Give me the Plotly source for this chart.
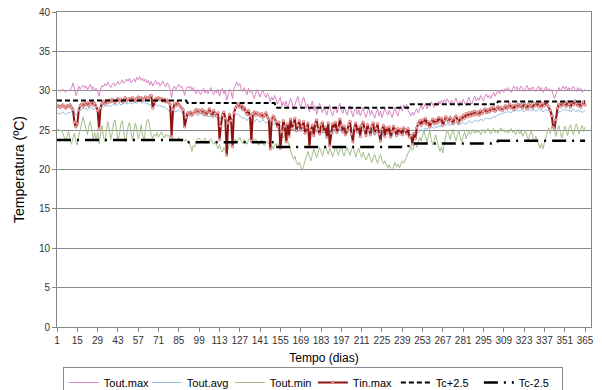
import numpy as np
import plotly.graph_objects as go

days = list(range(1, 366))

tout_max = [
    30.0, 30.1, 29.9, 30.0, 30.2, 30.0, 29.8, 30.1, 30.0, 30.2,
    30.3, 31.0, 30.4, 29.4, 29.8, 30.6, 30.2, 30.5, 30.7, 30.3,
    30.6, 30.1, 30.4, 30.8, 30.2, 30.5, 30.0, 30.3, 29.9, 29.3,
    30.2, 30.7, 30.5, 30.9, 30.6, 31.1, 30.7, 30.4, 30.8, 31.0,
    30.6, 30.9, 31.2, 30.8, 31.0, 31.4, 30.9, 31.1, 31.5, 31.2,
    31.6, 31.0, 31.3, 31.5, 31.1, 31.7, 31.4, 31.8, 31.3, 31.6,
    31.2, 31.5, 31.0, 31.3, 30.7, 31.2, 30.6, 31.0, 31.3, 30.8,
    31.1, 30.6, 30.9, 31.2, 30.8, 30.5, 31.0, 30.7, 30.2, 29.1,
    30.3, 30.6, 30.2, 30.5, 30.8, 30.4, 30.6, 30.1, 29.4, 30.2,
    30.5, 30.3, 30.6, 30.1, 30.4, 30.0, 29.6, 30.2, 29.8, 29.5,
    29.9, 30.3, 29.7, 30.1, 29.6, 30.0, 30.4, 29.8, 29.5, 30.1,
    29.7, 30.2, 29.3, 29.9, 30.3, 29.6, 30.0, 28.8, 29.5, 30.2,
    29.8, 29.0, 30.3, 30.7, 31.1, 30.6, 30.9, 30.2, 29.9, 30.4,
    30.0, 29.5, 30.3, 29.8, 30.1, 29.4, 29.0, 29.7, 30.2, 29.6,
    29.2, 29.8, 30.0, 29.5, 29.1, 29.7, 29.3, 28.6, 29.2, 28.8,
    29.4, 28.9, 28.3, 28.8, 29.2, 28.0, 28.6, 28.1, 28.7, 27.8,
    28.4, 29.0, 28.5, 27.6, 28.2, 28.9, 29.3, 28.4, 27.9, 28.6,
    29.2, 28.5, 27.8, 28.3, 27.3, 28.0, 28.7, 27.5, 28.1, 27.0,
    27.7, 28.4, 27.9, 27.2, 28.0, 27.4, 26.9, 27.7, 28.2, 27.3,
    26.8, 27.5, 28.0, 27.2, 27.8, 28.4, 27.6, 27.1, 27.9, 27.4,
    26.9, 27.6, 28.1, 27.3, 26.7, 27.5, 27.9, 27.0, 27.6, 26.8,
    27.4, 27.9, 27.1, 26.6, 27.3, 27.8, 26.9, 27.5, 27.0, 26.5,
    27.2, 27.7, 26.8, 27.4, 26.6, 27.1, 27.8, 27.3, 26.9, 27.5,
    27.0, 26.6, 27.3, 27.9, 27.2, 26.8, 27.6, 28.1, 27.4, 28.2,
    27.8, 28.3, 27.5, 27.1, 26.8, 27.3, 26.9, 27.4, 27.7, 27.2,
    27.8, 28.2, 27.6, 28.0, 28.4, 27.7, 28.3, 28.0, 28.6, 28.2,
    27.9, 28.5, 28.1, 28.7, 28.3, 28.8, 28.4, 28.9, 28.5, 29.0,
    28.7, 28.3, 28.8, 28.2, 28.6, 29.1, 28.5, 28.0, 28.7, 28.4,
    28.9, 28.5, 28.1, 28.8, 29.2, 28.6, 28.3, 28.9, 29.3, 28.7,
    29.1, 28.8, 29.4, 29.0, 28.7, 29.3, 29.6, 29.1, 29.4, 29.0,
    29.5, 29.8, 29.3, 29.7, 30.1, 29.6, 29.9, 30.2, 29.8, 30.3,
    30.0, 30.4, 30.1, 29.8, 30.3, 30.6, 30.2, 30.5, 30.0, 30.3,
    30.6, 30.2, 29.9, 30.4, 30.7, 30.1, 30.4, 30.0, 30.5, 30.2,
    29.9, 30.3, 30.6, 30.1, 30.4, 29.8, 30.2, 30.5, 30.0, 30.3,
    29.9, 30.2, 29.5, 29.0, 29.6, 30.1, 30.4, 30.0, 30.3, 30.6,
    30.2, 30.5, 30.1, 30.4, 30.0, 30.3, 30.6, 30.2, 29.9, 30.4,
    30.1, 30.3, 29.8, 30.0, 30.2,
]

tout_avg = [
    27.1, 27.2, 27.0, 27.1, 27.3, 27.2, 27.0, 27.1, 27.3, 27.2,
    27.4, 27.6, 27.3, 26.9, 27.0, 27.4, 27.5, 27.6, 27.8, 27.7,
    27.8, 27.6, 27.7, 27.9, 27.8, 27.7, 27.6, 27.8, 27.5, 27.1,
    27.6, 27.9, 28.0, 28.1, 28.0, 28.2, 28.1, 28.0, 28.2, 28.3,
    28.2, 28.1, 28.3, 28.4, 28.2, 28.3, 28.4, 28.5, 28.3, 28.4,
    28.5, 28.4, 28.3, 28.5, 28.6, 28.4, 28.6, 28.7, 28.5, 28.4,
    28.6, 28.5, 28.3, 28.4, 28.1, 28.3, 28.2, 28.4, 28.3, 28.1,
    28.2, 28.0, 28.1, 27.9, 28.0, 27.8, 27.7, 27.5, 27.3, 26.9,
    27.2, 27.4, 27.3, 27.5, 27.6, 27.4, 27.3, 27.2, 27.0, 27.1,
    27.3, 27.2, 27.0, 26.9, 27.1, 27.2, 27.0, 26.8, 27.0, 27.1,
    27.0, 26.8, 26.9, 27.1, 26.8, 26.7, 26.9, 26.8, 26.6, 26.8,
    26.7, 26.9, 26.5, 26.6, 26.8, 26.7, 26.6, 26.0, 26.4, 26.7,
    26.6, 26.2, 26.7, 26.9, 27.1, 27.0, 26.8, 26.7, 26.5, 26.6,
    26.4, 26.2, 26.5, 26.6, 26.3, 26.1, 26.0, 26.3, 26.4, 26.2,
    26.0, 26.2, 26.3, 26.1, 25.9, 26.0, 26.1, 25.8, 25.9, 25.7,
    25.8, 25.6, 25.5, 25.7, 25.6, 25.3, 25.5, 25.4, 25.6, 25.2,
    25.4, 25.5, 25.3, 25.0, 25.2, 25.4, 25.5, 25.2, 24.9, 25.1,
    25.3, 25.0, 24.8, 25.1, 24.7, 24.9, 25.2, 24.8, 25.0, 24.6,
    24.9, 25.1, 24.8, 24.6, 24.9, 24.7, 24.5, 24.8, 25.0, 24.7,
    24.5, 24.8, 25.0, 24.7, 24.9, 25.2, 24.9, 24.6, 24.9, 24.8,
    24.6, 24.9, 25.1, 24.8, 24.5, 24.8, 25.0, 24.6, 24.9, 24.5,
    24.8, 25.0, 24.7, 24.4, 24.7, 24.9, 24.5, 24.8, 24.6, 24.3,
    24.6, 24.9, 24.5, 24.7, 24.3, 24.6, 24.9, 24.7, 24.4, 24.7,
    24.5, 24.2, 24.6, 24.8, 24.5, 24.3, 24.7, 24.9, 24.6, 24.9,
    24.7, 24.9, 24.6, 24.4, 24.3, 24.6, 24.4, 24.7, 24.8, 24.6,
    24.9, 25.1, 24.9, 25.0, 25.3, 25.1, 25.3, 25.2, 25.5, 25.3,
    25.2, 25.5, 25.3, 25.6, 25.4, 25.7, 25.5, 25.8, 25.6, 25.9,
    25.8, 25.6, 25.9, 25.7, 25.8, 26.0, 25.8, 25.6, 25.9, 25.8,
    26.0, 25.9, 25.7, 26.0, 26.2, 26.0, 25.9, 26.1, 26.3, 26.1,
    26.2, 26.1, 26.4, 26.3, 26.2, 26.4, 26.6, 26.4, 26.5, 26.4,
    26.6, 26.8, 26.6, 26.8, 27.0, 26.9, 27.0, 27.2, 27.1, 27.3,
    27.2, 27.4, 27.3, 27.2, 27.4, 27.5, 27.4, 27.6, 27.4, 27.5,
    27.6, 27.5, 27.3, 27.5, 27.7, 27.5, 27.6, 27.4, 27.6, 27.5,
    27.4, 27.5, 27.7, 27.5, 27.6, 27.3, 27.5, 27.6, 27.4, 27.5,
    27.3, 27.4, 26.8, 26.0, 26.5, 27.1, 27.4, 27.3, 27.5, 27.7,
    27.5, 27.6, 27.4, 27.6, 27.3, 27.5, 27.7, 27.5, 27.3, 27.6,
    27.4, 27.5, 27.2, 27.4, 27.5,
]

tout_min = [
    25.0, 25.1, 24.9, 25.0, 24.6, 24.1, 23.6, 24.3, 24.8, 23.8,
    23.2, 24.0, 24.6, 23.5, 23.1, 24.2, 25.3, 25.9, 26.7, 26.0,
    25.2, 24.4, 25.5, 26.1, 25.0, 23.9, 24.7, 23.6, 24.8, 23.3,
    24.5, 25.6, 24.2, 23.5, 24.9, 26.1, 25.2, 23.8, 24.6, 25.9,
    26.3, 25.0, 23.7, 24.4, 25.8, 26.2, 24.9, 23.5, 24.2, 25.5,
    26.0, 24.7, 23.6, 24.8, 25.9, 25.1, 23.9, 24.6, 25.7, 24.4,
    23.8, 25.0, 26.2, 26.4, 25.1, 24.3, 24.0, 24.5, 24.2, 24.7,
    24.1, 24.4, 24.8, 24.3, 24.0, 24.5, 24.2, 24.4, 23.9, 24.1,
    23.7, 24.0, 23.6, 23.8, 24.1, 23.7, 23.5, 23.9, 23.6, 23.8,
    23.5, 23.4, 23.0, 22.3, 23.1, 22.9, 23.6, 23.9, 24.0, 23.7,
    23.4, 23.8, 24.0, 23.6, 23.3, 23.7, 23.9, 23.5, 23.2, 23.6,
    23.0, 22.6, 23.2, 22.5, 22.2, 22.8, 22.4, 21.9, 22.6, 23.3,
    23.6, 23.1, 23.5, 23.9, 23.4, 23.7, 24.1, 23.6, 23.3, 23.8,
    23.5, 23.2, 23.7, 24.0, 24.3, 24.1, 23.6, 23.9, 23.4, 23.1,
    23.5, 23.8, 23.3, 23.0, 23.4, 23.6, 23.2, 22.8, 23.1, 22.6,
    23.0, 23.3, 22.9, 23.5, 23.8, 24.2, 24.0, 24.5, 24.6, 23.7,
    23.0, 22.4, 21.8, 21.3, 21.7, 21.0, 20.6, 20.9, 20.3, 19.9,
    20.5, 21.2, 21.8, 22.3, 21.6, 21.1, 21.9, 22.6, 22.1, 21.5,
    22.2, 22.8, 22.3, 21.7, 22.5, 23.0, 22.4, 21.9, 22.7, 22.2,
    21.6, 22.3, 22.9, 22.4, 21.8, 22.6, 22.9, 22.1, 21.7, 22.4,
    22.8, 22.3, 21.8, 22.5, 22.9, 22.2, 21.6, 22.3, 22.7, 22.0,
    21.5, 22.2, 21.8, 21.2, 21.6, 22.1, 21.4, 20.9, 21.5, 21.9,
    21.3, 20.8, 21.4, 21.9, 21.2, 20.7, 21.1, 20.5, 20.2, 20.6,
    20.1, 19.9, 20.4, 20.9, 20.3, 20.7, 20.2, 20.6, 21.1, 20.8,
    21.2, 21.6, 22.1, 22.6, 22.9, 22.4, 23.0, 23.5, 22.8, 23.4,
    24.1, 23.6, 24.5, 25.0, 24.2, 23.5, 24.3, 24.9, 23.8, 23.1,
    23.7, 24.4, 23.6, 22.8, 22.3, 22.9, 22.1, 23.4, 24.2, 25.0,
    24.5, 23.8, 24.6, 25.1, 24.3, 23.6, 24.4, 25.0, 24.1, 23.5,
    24.2, 24.8, 23.9, 24.5, 25.0, 24.4, 24.7, 25.1, 24.6, 24.9,
    24.7, 25.0, 24.4, 24.8, 25.1, 24.6, 24.9, 25.2, 24.8, 24.5,
    24.9, 25.2, 24.7, 25.0, 24.6, 24.9, 25.3, 24.8, 25.1, 24.7,
    25.0, 24.6, 24.9, 25.2, 24.7, 25.0, 24.4, 24.8, 25.1, 24.5,
    24.9, 24.2, 24.6, 25.0, 24.3, 23.7, 24.5, 24.9, 24.1, 23.5,
    24.2, 23.6, 23.1, 22.7, 23.3, 22.6, 23.4, 24.2, 24.8, 25.3,
    24.6, 25.4, 25.8, 24.9, 24.2, 25.1, 25.6, 24.7, 24.0, 24.8,
    25.5, 25.0, 24.3, 25.2, 25.7, 24.9, 24.4, 25.3, 25.8, 25.1,
    24.5, 25.2, 25.6, 24.8, 25.4,
]

tin_max = [
    28.0, 28.1, 27.9, 28.0, 28.2, 28.0, 27.8, 28.1, 28.0, 28.2,
    27.9, 27.6, 26.0, 25.4, 25.8, 27.5, 28.1, 28.3, 28.0, 28.4,
    28.2, 28.5, 28.1, 28.3, 28.6, 28.2, 28.4, 28.0, 27.5, 25.2,
    27.8, 28.4, 28.6, 28.3, 28.7, 28.5, 28.8, 28.6, 28.9, 28.7,
    28.5, 28.8, 29.0, 28.7, 28.9, 28.6, 28.8, 29.1, 28.7, 28.9,
    29.0, 28.8, 29.1, 28.9, 28.7, 29.0, 29.2, 28.9, 29.1, 28.8,
    29.0, 29.2, 28.9, 29.1, 29.3, 29.4, 27.8, 28.6, 29.0, 28.8,
    29.1, 28.9, 29.0, 28.7, 28.9, 28.6, 28.8, 28.5, 28.3, 24.2,
    27.6, 28.4, 28.1, 28.5, 28.2, 28.0, 27.8, 27.6, 25.4, 26.6,
    27.2, 27.0, 27.3, 26.9, 27.1, 27.4, 27.6, 27.2, 27.5, 27.3,
    27.6, 27.1, 27.4, 26.9, 27.3, 27.7, 27.2, 26.8, 27.5, 27.1,
    26.8, 27.2, 23.8, 25.5, 26.9, 27.3, 26.5, 21.8, 25.9, 27.0,
    26.2, 22.9, 27.2, 27.8, 28.1, 28.3, 27.9, 28.2, 27.6, 27.9,
    27.4, 27.0, 27.5, 26.8, 23.6, 27.1, 27.3, 26.9, 27.2, 27.0,
    26.8, 27.1, 26.6, 26.9, 27.2, 26.7, 26.4, 22.6, 26.3, 26.8,
    26.5, 26.1, 25.4, 26.0, 22.7, 24.8, 26.2, 25.5, 23.5, 25.8,
    24.2, 26.4, 25.2, 25.8, 26.5, 24.9, 25.6, 26.2, 25.0, 25.5,
    26.1, 24.6, 25.3, 25.9, 22.9, 25.0, 25.6, 24.3, 25.8, 26.3,
    25.1, 24.5, 25.7, 26.0, 24.8, 25.4, 24.1, 25.9, 23.0, 24.6,
    25.8, 25.2, 26.0, 24.7, 25.3, 26.4, 25.6, 24.8, 25.5, 24.4,
    25.0, 25.7, 26.1, 24.5, 23.5, 25.3, 25.9, 24.8, 25.4, 24.2,
    25.6, 26.0, 25.1, 24.3, 25.7, 25.0, 24.4, 25.5, 25.9, 24.6,
    25.2, 25.8, 24.5, 23.6, 25.1, 25.6, 24.2, 25.3, 24.7, 25.4,
    24.1, 24.8, 25.5, 25.0, 24.3, 25.2, 24.6, 25.1, 24.4, 25.3,
    25.0, 24.5, 25.2, 24.1, 24.3, 23.2, 24.6, 23.9, 25.3, 25.8,
    26.2, 25.6, 26.3, 25.9, 26.5, 25.7, 26.1, 25.4, 26.0, 26.4,
    25.8, 26.3, 25.9, 26.6, 26.1, 26.5, 25.6, 26.2, 26.7, 26.4,
    26.1, 26.6, 26.3, 25.8, 26.5, 26.8, 26.2, 25.9, 26.6, 26.3,
    26.9, 26.5, 27.1, 26.7, 27.2, 26.8, 27.3, 26.9, 27.4, 27.0,
    27.3, 26.9, 27.5, 27.1, 27.4, 27.7, 27.2, 27.6, 27.3, 27.8,
    27.5, 27.9, 27.4, 27.7, 28.0, 27.6, 27.9, 27.5, 27.8, 28.1,
    27.7, 28.0, 28.3, 27.8, 28.1, 27.6, 28.2, 27.9, 28.3, 28.0,
    28.2, 27.8, 28.4, 28.1, 27.7, 28.3, 28.0, 28.2, 27.8, 28.4,
    28.1, 28.5, 28.0, 28.3, 27.9, 28.4, 28.1, 28.6, 28.2, 28.0,
    27.5, 26.8, 25.4, 25.2, 26.3, 27.8, 28.3, 28.0, 28.5, 28.2,
    28.4, 28.0, 28.6, 28.3, 27.9, 28.5, 28.2, 28.7, 28.4, 28.1,
    28.5, 27.9, 28.3, 28.6, 28.2,
]

# Comfort band: monthly constant values
month_days = [31, 28, 31, 30, 31, 30, 31, 31, 30, 31, 30, 31]
tc_plus_monthly = [28.75, 28.75, 28.75, 28.45, 28.45, 27.85, 27.85, 27.85, 28.3, 28.3, 28.65, 28.65]
tc_minus_monthly = [23.75, 23.75, 23.75, 23.45, 23.45, 22.85, 22.85, 22.85, 23.3, 23.3, 23.65, 23.65]

tc_plus = np.repeat(tc_plus_monthly, month_days)
tc_minus = np.repeat(tc_minus_monthly, month_days)

tick_vals = list(range(1, 366, 14))

for arr in (tout_max, tout_avg, tout_min, tin_max):
    assert len(arr) == 365, len(arr)

FONT = "Liberation Sans, Arial, sans-serif"

fig = go.Figure()
fig.add_trace(go.Scatter(x=days, y=tout_max, name="Tout.max", mode="lines",
                         line=dict(color="#D986C4", width=1)))
fig.add_trace(go.Scatter(x=days, y=tout_avg, name="Tout.avg", mode="lines",
                         line=dict(color="#93BDE6", width=1)))
fig.add_trace(go.Scatter(x=days, y=tout_min, name="Tout.min", mode="lines",
                         line=dict(color="#A3BE8A", width=1)))
fig.add_trace(go.Scatter(x=days, y=tin_max, name="Tin.max", mode="lines+markers",
                         line=dict(color="#8E1414", width=2),
                         marker=dict(symbol="circle", size=2.6, color="#EFB8B8",
                                     line=dict(color="#C25050", width=0.5))))
fig.add_trace(go.Scatter(x=days, y=tc_plus, name="Tc+2.5", mode="lines",
                         line=dict(color="#000000", width=2, dash="5px,3px")))
fig.add_trace(go.Scatter(x=days, y=tc_minus, name="Tc-2.5", mode="lines",
                         line=dict(color="#000000", width=2.5, dash="14px,6px,2px,6px")))

fig.update_layout(
    width=602, height=390,
    margin=dict(l=57, r=11, t=12, b=63, autoexpand=False),
    paper_bgcolor="white", plot_bgcolor="white",
    font=dict(family=FONT, color="#000000", size=10),
    showlegend=True,
    legend=dict(orientation="h", x=0.011, xanchor="left", y=-0.127, yanchor="top",
                bordercolor="#8a8a8a", borderwidth=1, bgcolor="white",
                font=dict(size=11, family=FONT), itemwidth=30,
                entrywidth=38, entrywidthmode="pixels",
                tracegroupgap=0),
)
fig.update_xaxes(
    range=[1, 369.1], tickmode="array", tickvals=tick_vals,
    ticks="outside", ticklen=4, tickcolor="#868686",
    tickfont=dict(size=10, color="#333333"),
    showgrid=False, showline=True, linecolor="#868686", linewidth=1, mirror=True,
    zeroline=False,
    title=dict(text="Tempo (dias)", font=dict(size=12, color="#000000"), standoff=8),
)
fig.update_yaxes(
    range=[0, 40], dtick=5, ticks="outside", ticklen=4, tickcolor="#868686",
    tickfont=dict(size=10, color="#333333"),
    showgrid=True, gridcolor="#8c8c8c", gridwidth=1,
    showline=True, linecolor="#868686", linewidth=1, mirror=True,
    zeroline=False,
    title=dict(text="Temperatura (ºC)", font=dict(size=14, color="#000000"), standoff=10),
)

fig.write_html("out.html")
